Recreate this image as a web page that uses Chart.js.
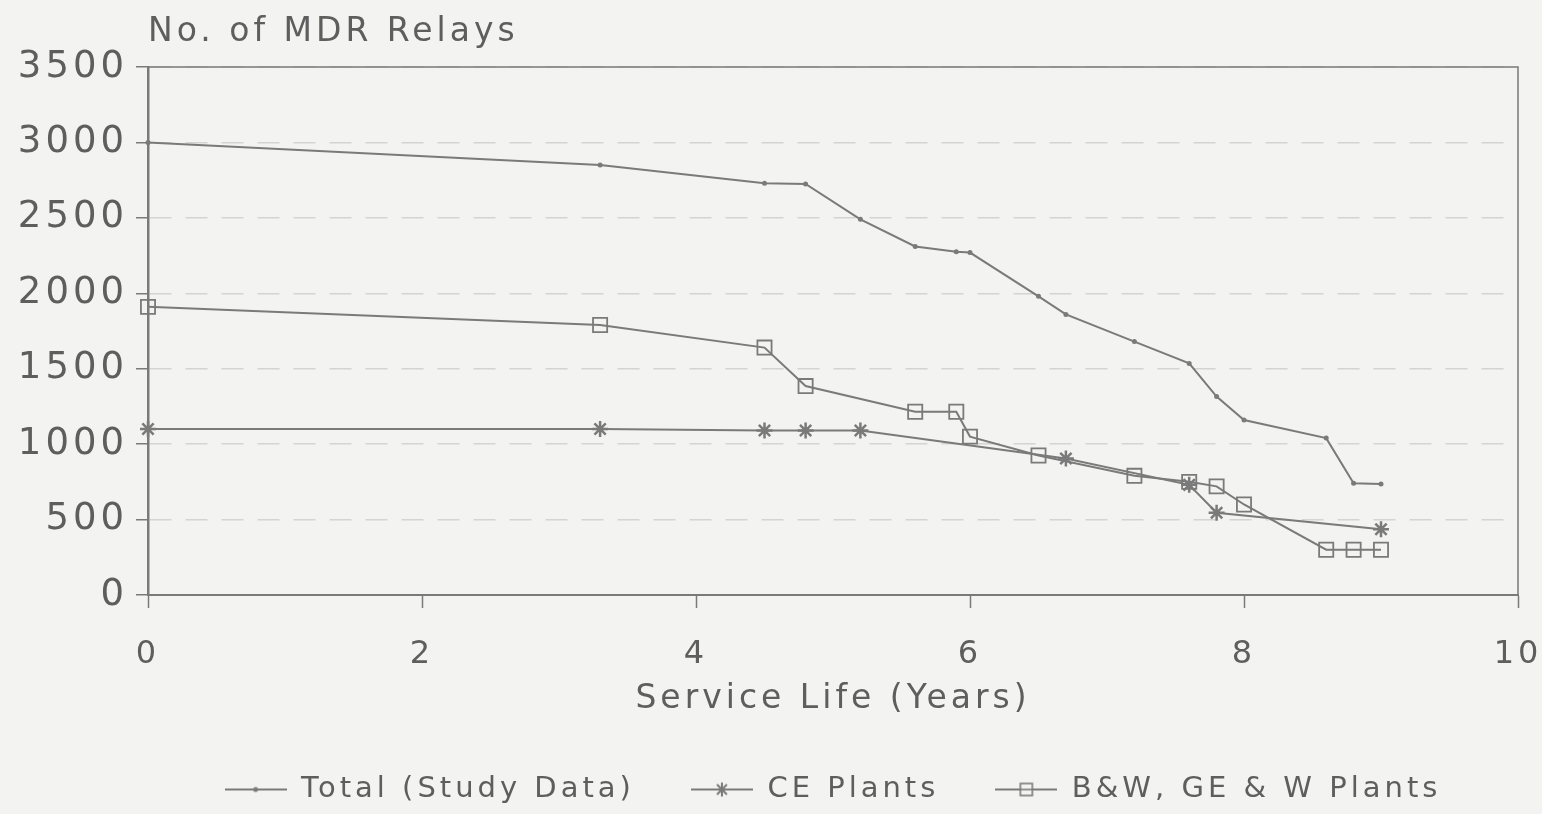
<!DOCTYPE html>
<html>
<head>
<meta charset="utf-8">
<title>No. of MDR Relays</title>
<script src="https://cdn.jsdelivr.net/npm/chart.js@4.4.1/dist/chart.umd.min.js"></script>
<style>
  html, body { margin: 0; padding: 0; background: #f3f3f1; }
  #wrap { width: 1542px; height: 814px; }
</style>
</head>
<body>
<div id="wrap"><canvas id="relays"></canvas></div>
<script>
// data
var total_years = [0, 3.3, 4.5, 4.8, 5.2, 5.6, 5.9, 6.0, 6.5, 6.7, 7.2, 7.6, 7.8, 8.0, 8.6, 8.8, 9.0];
var total_relays = [3000, 2850, 2730, 2725, 2490, 2310, 2275, 2270, 1980, 1860, 1680, 1535, 1315, 1160, 1040, 740, 735];

var ce_years = [0, 3.3, 4.5, 4.8, 5.2, 6.7, 7.6, 7.8, 9.0];
var ce_relays = [1100, 1100, 1090, 1090, 1090, 905, 730, 545, 436];

var bwgew_years = [0, 3.3, 4.5, 4.8, 5.6, 5.9, 6.0, 6.5, 7.2, 7.6, 7.8, 8.0, 8.6, 8.8, 9.0];
var bwgew_relays = [1910, 1790, 1640, 1385, 1215, 1215, 1050, 925, 790, 750, 720, 600, 300, 300, 300];

var series_names = ["Total (Study Data)", "CE Plants", "B&W, GE & W Plants"];
var x_ticks = [0, 2, 4, 6, 8, 10];
var y_ticks = [0, 500, 1000, 1500, 2000, 2500, 3000, 3500];

var ink = "#7a7a7a";
var text_ink = "#5e5e5e";
var font_family = "'DejaVu Sans', sans-serif";

function to_points(xs, ys) {
  return xs.map(function (x, i) { return { x: x, y: ys[i] }; });
}

// little line + marker samples for the legend
function make_sample(kind) {
  var c = document.createElement("canvas");
  c.width = 62;
  c.height = 24;
  var g = c.getContext("2d");
  g.strokeStyle = ink;
  g.fillStyle = ink;
  g.lineWidth = 2;
  g.beginPath();
  g.moveTo(0, 12);
  g.lineTo(62, 12);
  g.stroke();
  if (kind == "dot") {
    g.beginPath();
    g.arc(31, 12, 2.5, 0, Math.PI * 2);
    g.fill();
  } else if (kind == "star") {
    g.lineWidth = 2;
    g.beginPath();
    for (var a = 0; a < 4; a++) {
      var ang = a * Math.PI / 4;
      g.moveTo(31 - 7 * Math.cos(ang), 12 - 7 * Math.sin(ang));
      g.lineTo(31 + 7 * Math.cos(ang), 12 + 7 * Math.sin(ang));
    }
    g.stroke();
  } else {
    g.clearRect(25, 6, 12, 12);
    g.lineWidth = 1.6;
    g.strokeRect(25, 6, 12, 12);
    g.beginPath();
    g.moveTo(25, 12);
    g.lineTo(37, 12);
    g.stroke();
  }
  return c;
}
var samples = [make_sample("dot"), make_sample("star"), make_sample("square")];

// the scan has widely spaced lettering
function spacing(chart) {
  chart.ctx.letterSpacing = "4px";
}

var frame_plugin = {
  id: "frame",
  beforeLayout: spacing,
  beforeDraw: spacing,
  afterDraw: function (chart) {
    var ctx = chart.ctx;
    var a = chart.chartArea;
    ctx.save();
    // top and right edge of the plot box
    ctx.strokeStyle = ink;
    ctx.lineWidth = 1.5;
    ctx.beginPath();
    ctx.moveTo(a.left, a.top);
    ctx.lineTo(a.right, a.top);
    ctx.lineTo(a.right, a.bottom);
    ctx.stroke();
    // y axis caption above the axis
    ctx.letterSpacing = "4px";
    ctx.fillStyle = text_ink;
    ctx.font = "33px " + font_family;
    ctx.textAlign = "left";
    ctx.textBaseline = "alphabetic";
    ctx.fillText("No. of MDR Relays", a.left, 41);
    ctx.restore();
  },
};

new Chart(document.getElementById("relays"), {
  type: "line",
  data: {
    datasets: [
      {
        label: series_names[0],
        data: to_points(total_years, total_relays),
        borderColor: ink,
        backgroundColor: ink,
        borderWidth: 2,
        pointStyle: "circle",
        pointRadius: 2.5,
        pointBorderWidth: 0,
        clip: false,
      },
      {
        label: series_names[1],
        data: to_points(ce_years, ce_relays),
        borderColor: ink,
        backgroundColor: ink,
        borderWidth: 2,
        pointStyle: "star",
        pointRadius: 8,
        pointBorderWidth: 2.5,
        clip: false,
      },
      {
        label: series_names[2],
        data: to_points(bwgew_years, bwgew_relays),
        borderColor: ink,
        backgroundColor: "rgba(0,0,0,0)",
        borderWidth: 2,
        pointStyle: "rect",
        pointRadius: 10,
        pointBorderWidth: 1.8,
        clip: false,
      },
    ],
  },
  options: {
    responsive: true,
    maintainAspectRatio: false,
    animation: false,
    layout: { padding: { top: 67, right: 24, left: 0, bottom: 0 } },
    plugins: {
      tooltip: { enabled: false },
      legend: {
        position: "bottom",
        fullSize: false,
        labels: {
          color: text_ink,
          font: { family: font_family, size: 29 },
          usePointStyle: true,
          pointStyleWidth: 62,
          padding: 56,
          generateLabels: function (chart) {
            var items = Chart.defaults.plugins.legend.labels.generateLabels(chart);
            items.forEach(function (item, i) {
              item.pointStyle = samples[i];
            });
            return items;
          },
        },
      },
    },
    scales: {
      x: {
        type: "linear",
        min: 0,
        max: 10,
        afterBuildTicks: function (axis) {
          axis.ticks = x_ticks.map(function (v) { return { value: v }; });
        },
        afterFit: function (axis) {
          axis.height = 124;
          axis.paddingLeft = 0;
          axis.paddingRight = 0;
        },
        grid: { drawOnChartArea: false, drawTicks: true, tickLength: 13, tickColor: ink, tickWidth: 1.5 },
        border: { color: ink, width: 2 },
        ticks: {
          color: text_ink,
          font: { family: font_family, size: 32 },
          padding: 27,
          maxRotation: 0,
          autoSkip: false,
          callback: function (v) { return String(v); },
        },
        title: {
          display: true,
          text: "Service Life (Years)",
          color: text_ink,
          font: { family: font_family, size: 33 },
          padding: { top: 0, bottom: 0 },
        },
      },
      y: {
        min: 0,
        max: 3500,
        afterBuildTicks: function (axis) {
          axis.ticks = y_ticks.map(function (v) { return { value: v }; });
        },
        afterFit: function (axis) { axis.width = 148; },
        grid: { color: "#d4d4d2", lineWidth: 1.5, tickLength: 12, tickColor: ink, tickWidth: 1.5 },
        border: { color: ink, width: 2.5, dash: [22, 14] },
        ticks: {
          color: text_ink,
          font: { family: font_family, size: 37 },
          padding: 8,
          autoSkip: false,
          callback: function (v) { return String(v); },
        },
      },
    },
  },
  plugins: [frame_plugin],
});
</script>
</body>
</html>
